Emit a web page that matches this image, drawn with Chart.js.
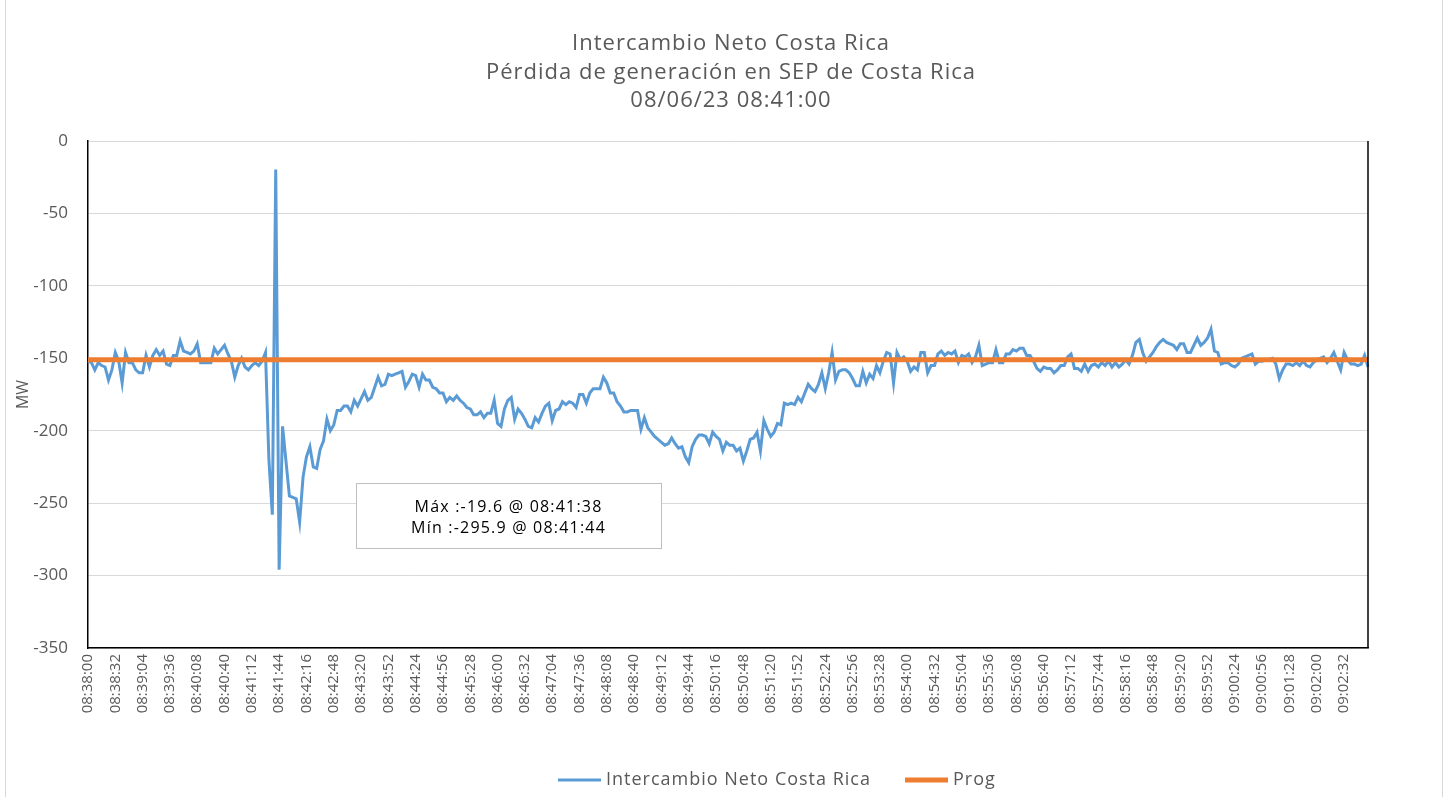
<!DOCTYPE html>
<html>
<head>
<meta charset="utf-8">
<title>Intercambio Neto Costa Rica</title>
<script src="https://cdn.jsdelivr.net/npm/chart.js@4.4.1/dist/chart.umd.min.js"></script>
<style>
  html, body { margin: 0; padding: 0; background: #fff; }
  #wrap { position: relative; width: 1447px; height: 797px; }
</style>
</head>
<body>
<div id="wrap"><canvas id="chart" width="1447" height="797"></canvas></div>
<script>
// data, one sample every 4 s starting 08:38:00
const startTime = '08:38:00';
const stepSeconds = 4;

const intercambio = [
  -152, -153, -158, -153, -155, -156, -165, -158, -146, -152,
  -167, -146, -153, -153, -158, -160, -160, -148, -156, -148,
  -144, -148, -145, -154, -155, -148, -148, -138, -145, -146,
  -147, -145, -140, -153, -153, -153, -153, -143, -147, -144,
  -141, -147, -152, -163, -155, -150, -156, -158, -155, -153,
  -155, -152, -146, -220, -258, -19.6, -295.9, -197, -221, -245,
  -246, -247, -263, -232, -218, -211, -225, -226, -213, -207,
  -192, -200, -196, -186, -186, -183, -183, -187, -179, -183,
  -178, -173, -179, -177, -170, -163, -169, -168, -161, -162,
  -161, -160, -159, -170, -166, -161, -162, -170, -161, -165,
  -165, -170, -171, -174, -174, -180, -177, -179, -176, -179,
  -181, -184, -185, -189, -189, -187, -191, -188, -188, -179,
  -195, -197, -185, -179, -177, -192, -185, -188, -192, -197,
  -198, -191, -194, -188, -183, -181, -193, -186, -185, -180,
  -182, -180, -181, -184, -175, -175, -181, -174, -171, -171,
  -171, -163, -167, -174, -174, -180, -183, -187, -187, -186,
  -186, -186, -199, -191, -198, -201, -204, -206, -208, -210,
  -209, -205, -209, -212, -211, -218, -222, -211, -206, -203,
  -203, -204, -209, -201, -204, -206, -214, -208, -210, -210,
  -214, -212, -221, -214, -206, -205, -201, -214, -193, -199,
  -204, -201, -195, -196, -181, -182, -181, -182, -177, -180,
  -174, -168, -171, -173, -168, -160, -171, -160, -146, -165,
  -159, -158, -158, -160, -164, -169, -169, -159, -167, -161,
  -164, -155, -160, -152, -146, -147, -167, -146, -151, -149,
  -152, -159, -156, -158, -146, -146, -160, -155, -155, -147,
  -145, -148, -146, -147, -145, -153, -148, -149, -147, -153,
  -149, -141, -155, -154, -153, -153, -144, -153, -153, -147,
  -147, -144, -145, -143, -143, -148, -148, -152, -157, -159,
  -156, -157, -157, -160, -158, -155, -155, -149, -147, -157,
  -157, -159, -154, -159, -155, -154, -156, -153, -155, -152,
  -156, -153, -156, -154, -151, -154, -148, -139, -137, -146,
  -152, -149, -146, -142, -139, -137, -139, -140, -141, -144,
  -140, -140, -146, -146, -141, -136, -141, -139, -136, -130,
  -145, -146, -154, -153, -153, -155, -156, -154, -150, -149,
  -148, -147, -154, -152, -152, -151, -151, -150, -154, -164,
  -158, -154, -154, -155, -153, -155, -152, -155, -156, -153,
  -151, -150, -149, -153, -150, -146, -152, -158, -146, -151,
  -154, -154, -155, -154, -148, -156
];

const progValue = -151;
const yTicks = [0, -50, -100, -150, -200, -250, -300, -350];
const labelEvery = 8; // one label every 32 s

const titleLines = [
  'Intercambio Neto Costa Rica',
  'Pérdida de generación en SEP de Costa Rica',
  '08/06/23 08:41:00'
];
const noteLines = [
  'Máx :-19.6 @ 08:41:38',
  'Mín :-295.9 @ 08:41:44'
];

function makeTimes(start, step, n) {
  const p = start.split(':').map(Number);
  const t0 = p[0] * 3600 + p[1] * 60 + p[2];
  const out = [];
  for (let i = 0; i < n; i++) {
    const t = t0 + i * step;
    const hh = String(Math.floor(t / 3600)).padStart(2, '0');
    const mm = String(Math.floor(t / 60) % 60).padStart(2, '0');
    const ss = String(t % 60).padStart(2, '0');
    out.push(hh + ':' + mm + ':' + ss);
  }
  return out;
}

const times = makeTimes(startTime, stepSeconds, intercambio.length);
const prog = times.map(() => progValue);

const textColor = '#595959';
const fontFamily = "'Open Sans', 'Noto Sans', sans-serif";

// frame, right border of the plot, title, note box and legend
const extras = {
  id: 'extras',
  beforeDraw(chart) {
    const ctx = chart.ctx;
    ctx.save();
    ctx.strokeStyle = '#d9d9d9';
    ctx.lineWidth = 1;
    ctx.beginPath();
    ctx.moveTo(5.5, 0); ctx.lineTo(5.5, chart.height);
    ctx.moveTo(1442.5, 0); ctx.lineTo(1442.5, chart.height);
    ctx.stroke();
    ctx.restore();
  },
  afterDraw(chart) {
    const ctx = chart.ctx;
    const a = chart.chartArea;
    ctx.save();
    ctx.strokeStyle = '#000';
    ctx.lineWidth = 1.5;
    ctx.beginPath();
    ctx.moveTo(a.right, a.top);
    ctx.lineTo(a.right, a.bottom);
    ctx.stroke();

    // title
    ctx.fillStyle = textColor;
    ctx.textAlign = 'center';
    ctx.textBaseline = 'middle';
    ctx.font = '22px ' + fontFamily;
    ctx.letterSpacing = '1px';
    titleLines.forEach((t, i) => ctx.fillText(t, 731, 44 + i * 28.5));

    // note box
    const w = a.right - a.left, h = a.bottom - a.top;
    const bx = a.left + w * 0.2094, by = a.top + h * 0.6746;
    const bw = w * 0.2383, bh = h * 0.128;
    ctx.fillStyle = '#fff';
    ctx.fillRect(bx, by, bw, bh);
    ctx.strokeStyle = '#bfbfbf';
    ctx.lineWidth = 1;
    ctx.strokeRect(Math.round(bx) + 0.5, Math.round(by) + 0.5, Math.round(bw), Math.round(bh));
    ctx.fillStyle = '#000';
    ctx.font = '16px ' + fontFamily;
    ctx.letterSpacing = '1.2px';
    ctx.fillText(noteLines[0], bx + bw / 2, by + bh * 0.37);
    ctx.fillText(noteLines[1], bx + bw / 2, by + bh * 0.7);

    // legend
    const ly = 780;
    const items = [{ x: 558, tx: 606 }, { x: 905, tx: 953 }];
    ctx.font = '18px ' + fontFamily;
    ctx.letterSpacing = '1px';
    ctx.textAlign = 'left';
    chart.data.datasets.forEach((ds, i) => {
      const it = items[i];
      ctx.strokeStyle = ds.borderColor;
      ctx.lineWidth = ds.borderWidth;
      ctx.beginPath();
      ctx.moveTo(it.x, ly);
      ctx.lineTo(it.x + 43, ly);
      ctx.stroke();
      ctx.fillStyle = textColor;
      ctx.fillText(ds.label, it.tx, ly);
    });
    ctx.restore();
  }
};

const ctx = document.getElementById('chart').getContext('2d');
new Chart(ctx, {
  type: 'line',
  data: {
    labels: times,
    datasets: [{
      label: 'Intercambio Neto Costa Rica',
      data: intercambio,
      borderColor: '#5B9BD5',
      backgroundColor: '#5B9BD5',
      borderWidth: 3,
      pointRadius: 0,
      tension: 0,
      order: 1
    }, {
      label: 'Prog',
      data: prog,
      borderColor: '#ED7D31',
      backgroundColor: '#ED7D31',
      borderWidth: 5,
      pointRadius: 0,
      order: 0
    }]
  },
  options: {
    responsive: false,
    animation: false,
    layout: { padding: { left: 0, right: 79, top: 141, bottom: 37 } },
    plugins: {
      title: { display: false },
      legend: { display: false },
      tooltip: { enabled: false }
    },
    scales: {
      x: {
        type: 'category',
        offset: false,
        grid: { display: false, drawTicks: false },
        border: { color: '#000', width: 1.5 },
        ticks: {
          autoSkip: false,
          minRotation: 90,
          maxRotation: 90,
          padding: 6,
          color: textColor,
          font: { family: fontFamily, size: 15 },
          callback: function (value, index) {
            return index % labelEvery === 0 ? this.getLabelForValue(value) : null;
          }
        },
        afterFit: (scale) => { scale.height = 112; }
      },
      y: {
        min: yTicks[yTicks.length - 1],
        max: yTicks[0],
        grid: { color: '#d9d9d9', lineWidth: 1, drawTicks: false },
        border: { color: '#000', width: 1.5 },
        afterBuildTicks: (scale) => { scale.ticks = yTicks.map(v => ({ value: v })); },
        ticks: {
          padding: 20,
          color: textColor,
          font: { family: fontFamily, size: 17 }
        },
        title: {
          display: true,
          text: 'MW',
          color: textColor,
          font: { family: fontFamily, size: 16 },
          padding: { top: 14, bottom: 0 }
        },
        afterFit: (scale) => { scale.width = 88; }
      }
    }
  },
  plugins: [extras]
});
</script>
</body>
</html>
